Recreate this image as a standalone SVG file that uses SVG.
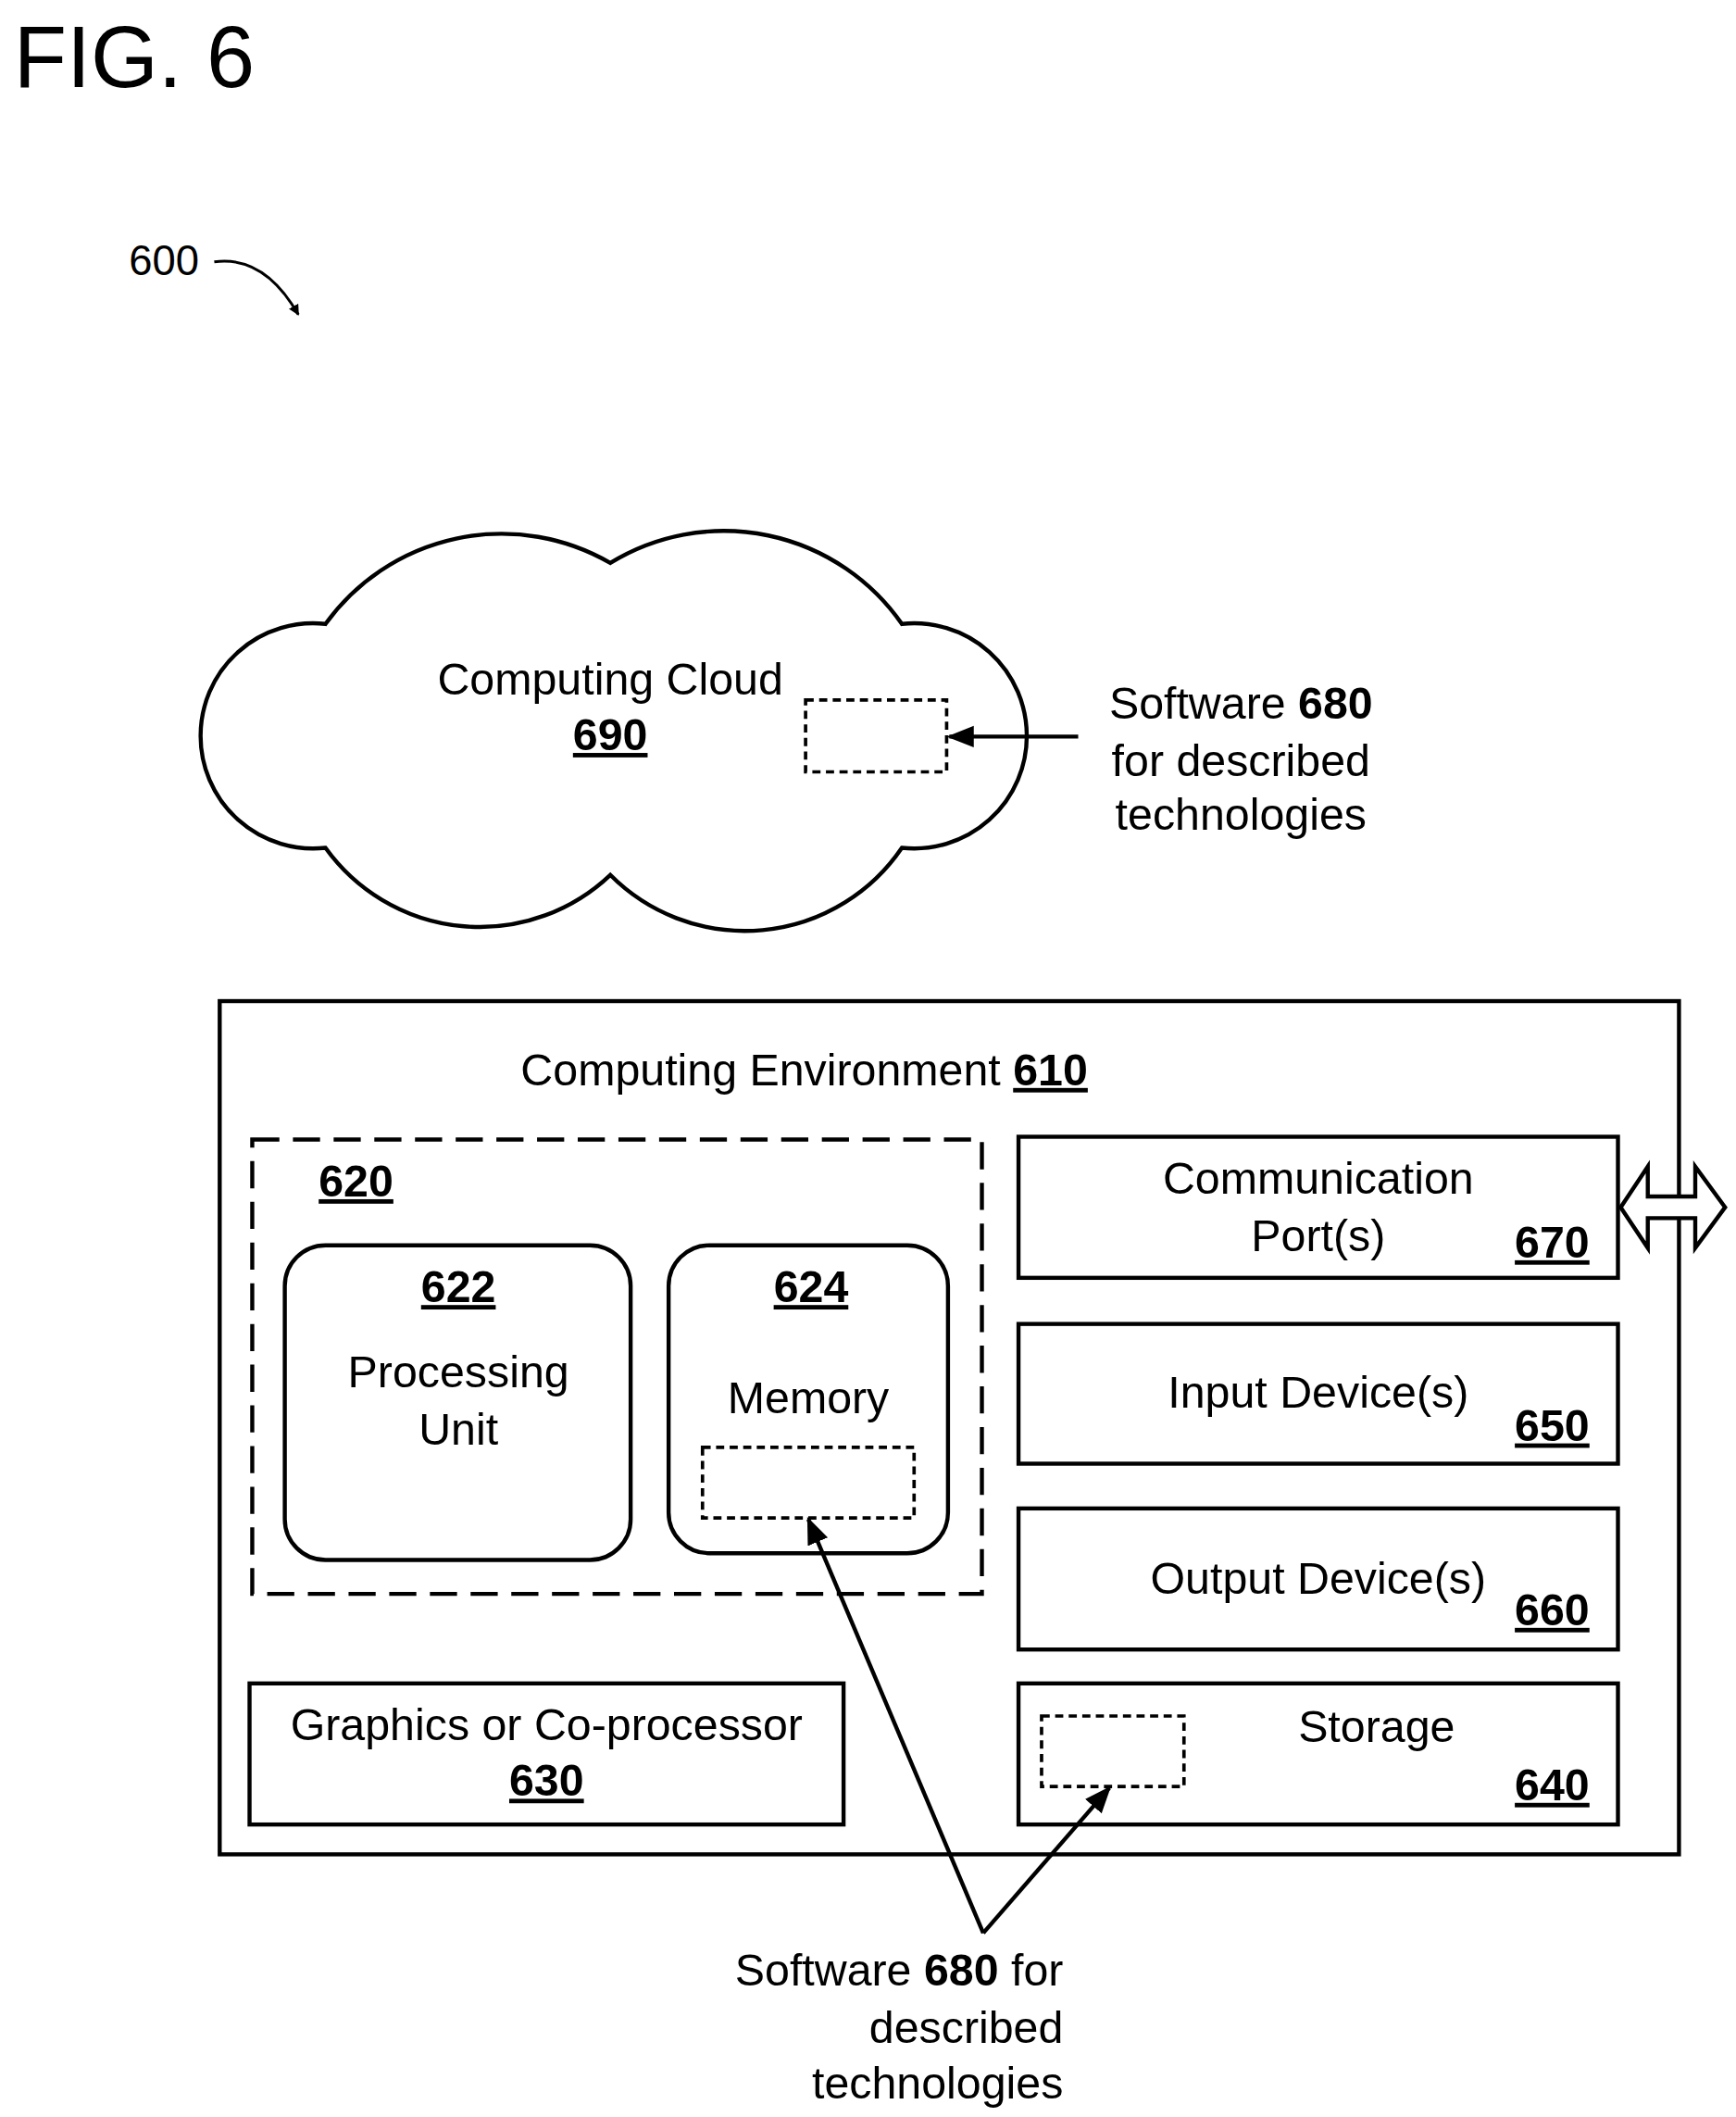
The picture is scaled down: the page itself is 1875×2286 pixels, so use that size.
<svg xmlns="http://www.w3.org/2000/svg" width="1875" height="2286" viewBox="0 0 1875 2286">
<defs>
<style>
text{font-family:"Liberation Sans",Arial,sans-serif;font-size:33px;fill:#000}
.b{font-weight:bold;text-decoration:underline}
.m{text-anchor:middle}.e{text-anchor:end}
.s{fill:none;stroke:#000;stroke-width:3}
.d{fill:none;stroke:#000;stroke-width:2.5;stroke-dasharray:6,4}
</style>
<marker id="ah" viewBox="0 0 10 10" refX="9" refY="5" markerWidth="8" markerHeight="8" markerUnits="userSpaceOnUse" orient="auto"><path d="M0,0 L10,5 L0,10 z"/></marker>
<marker id="ah2" viewBox="0 0 10 10" refX="9" refY="5" markerWidth="20" markerHeight="20" markerUnits="userSpaceOnUse" orient="auto"><path d="M0,1 L10,5 L0,9 z"/></marker>
</defs>
<rect width="1875" height="2286" fill="#fff"/>
<g transform="scale(1.4648)">
<text x="10" y="64" style="font-size:64px">FIG. 6</text>
<g id="label600"><text x="95" y="203" style="font-size:31px">600</text></g>
<g id="cloud690">
<path class="s" d="M240,460 A160,160 0 0 1 450,415 A160,160 0 0 1 665,460 A83,83 0 1 1 665,625 A140,140 0 0 1 450,645 A140,140 0 0 1 240,625 A83,83 0 1 1 240,460 Z"/>
<text class="m" x="450" y="512">Computing Cloud</text>
<text class="m b" x="450" y="553">690</text>
<rect class="d" x="594" y="516" width="104" height="53"/>
</g>
<g id="sw680a"><text class="m" x="915" y="530">Software <tspan font-weight="bold">680</tspan></text><text class="m" x="915" y="572">for described</text><text class="m" x="915" y="612">technologies</text></g>
<g id="env610">
<rect class="s" x="162" y="738" width="1076" height="629"/>
<text class="m" x="593" y="800">Computing Environment <tspan class="b">610</tspan></text>
</g>
<g id="n620"><rect x="186" y="840" width="538" height="335" fill="none" stroke="#000" stroke-width="3" stroke-dasharray="20,10"/><text class="b" x="235" y="882">620</text></g>
<g id="n622"><rect class="s" x="210" y="918" width="255" height="232" rx="30"/><text class="m b" x="338" y="960">622</text><text class="m" x="338" y="1023">Processing</text><text class="m" x="338" y="1065">Unit</text></g>
<g id="n624"><rect class="s" x="493" y="918" width="206" height="227" rx="30"/><text class="m b" x="598" y="960">624</text><text class="m" x="596" y="1042">Memory</text><rect class="d" x="518" y="1067" width="156" height="52"/></g>
<g id="n670"><rect class="s" x="751" y="838" width="442" height="104"/><text class="m" x="972" y="880">Communication</text><text class="m" x="972" y="922">Port(s)</text><text class="e b" x="1172" y="927">670</text></g>
<g id="n650"><rect class="s" x="751" y="976" width="442" height="103"/><text class="m" x="972" y="1038">Input Device(s)</text><text class="e b" x="1172" y="1062">650</text></g>
<g id="n660"><rect class="s" x="751" y="1112" width="442" height="104"/><text class="m" x="972" y="1175">Output Device(s)</text><text class="e b" x="1172" y="1198">660</text></g>
<g id="n640"><rect class="s" x="751" y="1241" width="442" height="104"/><text class="m" x="1015" y="1284">Storage</text><text class="e b" x="1172" y="1327">640</text><rect class="d" x="768" y="1265" width="105" height="52"/></g>
<g id="n630"><rect class="s" x="184" y="1241" width="438" height="104"/><text class="m" x="403" y="1283">Graphics or Co-processor</text><text class="m b" x="403" y="1324">630</text></g>
<g id="sw680b"><text class="e" x="784" y="1464">Software <tspan font-weight="bold">680</tspan> for</text><text class="e" x="784" y="1506">described</text><text class="e" x="784" y="1547">technologies</text></g>
<g id="connectors">
<path d="M158,193 Q195,188 220,232" fill="none" stroke="#000" stroke-width="2" marker-end="url(#ah)"/>
<line x1="795" y1="543" x2="700" y2="543" stroke="#000" stroke-width="3" marker-end="url(#ah2)"/>
<line x1="725" y1="1425" x2="596" y2="1120" stroke="#000" stroke-width="3" marker-end="url(#ah2)"/>
<line x1="725" y1="1425" x2="818" y2="1318" stroke="#000" stroke-width="3" marker-end="url(#ah2)"/>
<polygon points="1195,890 1215,860 1215,882 1250,882 1250,860 1272,890 1250,920 1250,898 1215,898 1215,920" fill="#fff" stroke="#000" stroke-width="3"/>
</g>
</g>
</svg>
